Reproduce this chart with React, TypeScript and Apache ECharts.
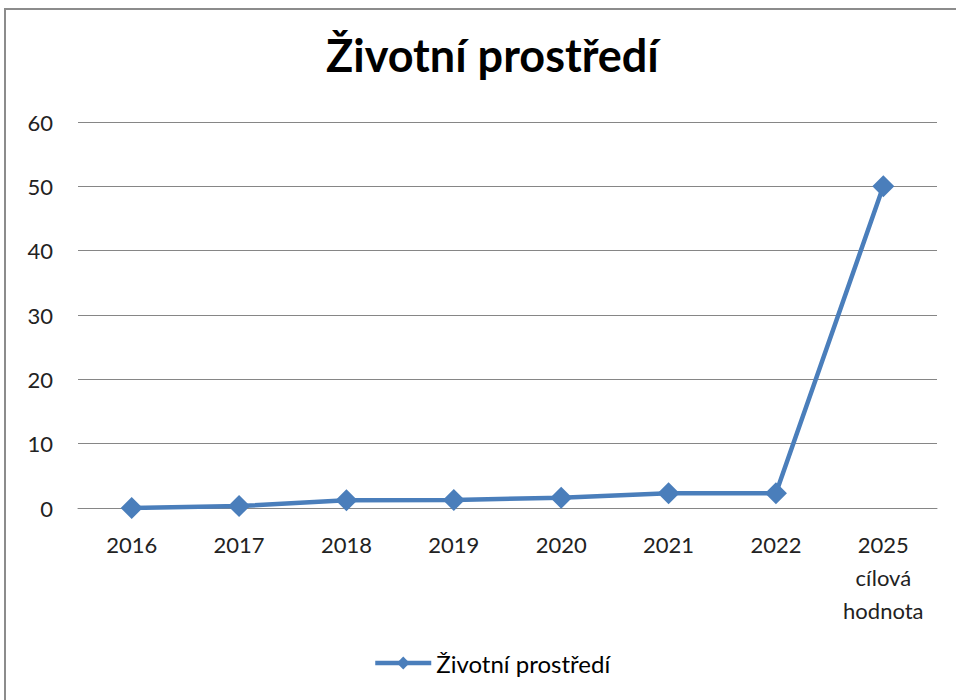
import React, { useEffect, useRef } from "react";
import * as echarts from "echarts";

const categories = ["2016", "2017", "2018", "2019", "2020", "2021", "2022", "2025\ncílová\nhodnota"];
const values = [0, 0.3, 1.2, 1.25, 1.6, 2.3, 2.3, 50];
const seriesName = "Životní prostředí";
const titleText = "Životní prostředí";

export default function App() {
  const ref = useRef<HTMLDivElement>(null);
  useEffect(() => {
    if (!ref.current) return;
    const chart = echarts.init(ref.current, undefined, { renderer: "svg" });
    const font = "Lato, 'Open Sans', sans-serif";
    chart.setOption({
      animation: false,
      backgroundColor: "#ffffff",
      title: {
        text: titleText,
        left: 321,
        top: 27,
        textStyle: { fontFamily: font, fontSize: 45, fontWeight: "bold", color: "#000" },
      },
      graphic: [
        {
          type: "rect",
          shape: { x: 5, y: 9, width: 1000, height: 1000 },
          style: { fill: "none", stroke: "#8c8c8c", lineWidth: 2 },
          silent: true,
        },
      ],
      legend: {
        data: [seriesName],
        left: 368,
        top: 646,
        itemWidth: 56,
        itemHeight: 16,
        itemGap: 4,
        lineStyle: { width: 4.5 },
        textStyle: { fontFamily: font, fontSize: 24, color: "#000" },
      },
      grid: { left: 78, right: 19, top: 122, bottom: 192, containLabel: false },
      xAxis: {
        type: "category",
        data: categories,
        boundaryGap: true,
        axisLine: { lineStyle: { color: "#868686", width: 1 } },
        axisTick: { show: false },
        axisLabel: {
          fontFamily: font,
          fontSize: 22,
          color: "#222",
          margin: 20,
          lineHeight: 33,
          interval: 0,
        },
      },
      yAxis: {
        type: "value",
        min: 0,
        max: 60,
        interval: 10,
        axisLine: { show: false },
        axisTick: { show: false },
        splitLine: { lineStyle: { color: "#868686", width: 1 } },
        axisLabel: { fontFamily: font, fontSize: 22, color: "#222", margin: 25 },
      },
      series: [
        {
          name: seriesName,
          type: "line",
          data: values,
          symbol: "diamond",
          symbolSize: 22,
          lineStyle: { color: "#4a7ebb", width: 4.5 },
          itemStyle: { color: "#4a7ebb" },
        },
      ],
    });
    return () => chart.dispose();
  }, []);
  return (
    <div style={{ position: "fixed", left: 0, top: 0, width: 956, height: 700, background: "#fff" }}>
      <div ref={ref} style={{ width: 956, height: 700 }} />
    </div>
  );
}
